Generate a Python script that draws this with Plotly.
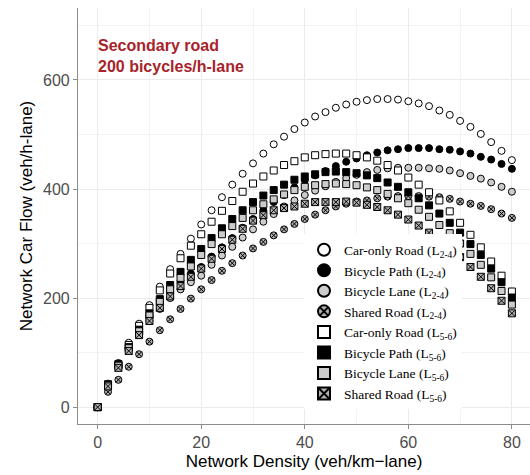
import plotly.graph_objects as go

density = [0, 2, 4, 6, 8, 10, 12, 14, 16, 18, 20, 22, 24, 26, 28, 30, 32, 34, 36, 38, 40,
           42, 44, 46, 48, 50, 52, 54, 56, 58, 60, 62, 64, 66, 68, 70, 72, 74, 76, 78, 80]

car_only_l24 = [0, 43, 81, 118, 153, 187, 221, 253, 281, 309, 335, 361, 385, 408, 428, 447, 465, 482, 496, 510,
                522, 533, 541, 549, 555, 560, 563, 565, 565, 564, 561, 557, 552, 544, 536, 525, 514, 501, 486, 470, 453]
bike_path_l24 = [0, 41, 77, 109, 139, 166, 190, 212, 231, 245, 257, 276, 293, 310, 329, 345, 361, 376, 389, 403,
                 416, 425, 433, 442, 450, 456, 462, 467, 471, 473, 475, 475, 475, 473, 472, 469, 465, 459, 454, 446, 437]
bike_lane_l24 = [0, 40, 75, 105, 133, 158, 180, 200, 216, 229, 241, 261, 278, 294, 311, 326, 340, 354, 368, 379,
                 389, 397, 405, 413, 420, 426, 431, 435, 438, 439, 439, 439, 438, 437, 434, 429, 424, 419, 412, 404, 395]
shared_l24 = [0, 28, 50, 74, 97, 120, 141, 161, 180, 199, 216, 233, 250, 264, 278, 291, 303, 315, 326, 336,
              345, 353, 361, 368, 373, 377, 379, 383, 386, 387, 387, 387, 386, 385, 382, 377, 373, 369, 363, 355, 347]
car_only_l56 = [0, 42, 79, 114, 149, 182, 214, 245, 273, 296, 317, 340, 360, 378, 395, 410, 423, 434, 444, 451,
                458, 462, 464, 465, 465, 462, 458, 452, 444, 434, 421, 408, 394, 379, 359, 338, 316, 293, 267, 241, 212]
bike_path_l56 = [0, 41, 77, 110, 142, 172, 198, 224, 248, 270, 290, 310, 328, 345, 361, 376, 388, 398, 408, 417,
                 423, 427, 431, 432, 431, 429, 425, 420, 412, 404, 394, 383, 370, 355, 338, 320, 299, 279, 254, 229, 201]
bike_lane_l56 = [0, 40, 76, 108, 139, 168, 193, 216, 237, 258, 279, 299, 317, 332, 347, 361, 372, 381, 390, 398,
                 404, 407, 409, 410, 409, 407, 403, 398, 391, 383, 374, 362, 349, 334, 319, 300, 281, 261, 238, 213, 188]
shared_l56 = [0, 38, 72, 103, 132, 158, 182, 203, 222, 239, 254, 272, 290, 307, 327, 342, 352, 361, 365, 368,
              373, 376, 376, 376, 377, 375, 371, 367, 361, 353, 344, 333, 320, 308, 291, 275, 257, 239, 218, 195, 172]

series_names = [
    "Car-only Road (L<sub>2-4</sub>)", "Bicycle Path (L<sub>2-4</sub>)",
    "Bicycle Lane (L<sub>2-4</sub>)", "Shared Road (L<sub>2-4</sub>)",
    "Car-only Road (L<sub>5-6</sub>)", "Bicycle Path (L<sub>5-6</sub>)",
    "Bicycle Lane (L<sub>5-6</sub>)", "Shared Road (L<sub>5-6</sub>)",
]
series_values = [car_only_l24, bike_path_l24, bike_lane_l24, shared_l24,
                 car_only_l56, bike_path_l56, bike_lane_l56, shared_l56]
symbols = ["circle", "circle", "circle", "circle-x", "square", "square", "square", "square-x"]
fills = ["white", "black", "#cccccc", "#b0b0b0", "white", "black", "#cccccc", "#b0b0b0"]

fig = go.Figure()
for name, vals, sym, fc in zip(series_names, series_values, symbols, fills):
    fig.add_trace(go.Scatter(
        x=density, y=vals, mode="markers", name=name,
        marker=dict(symbol=sym, size=7, color=fc, line=dict(color="black", width=1)),
    ))

fig.add_annotation(
    xref="paper", yref="paper", x=0.04, y=0.935, xanchor="left", yanchor="top",
    text="<b>Secondary road<br>200 bicycles/h-lane</b>", showarrow=False, align="left",
    font=dict(family="Liberation Sans, Arial", size=16, color="#a8232a"),
)

axis_common = dict(
    showline=True, linecolor="#8c8c8c", linewidth=1.2,
    ticks="outside", ticklen=4, tickcolor="#8c8c8c",
    tickfont=dict(family="Liberation Sans, Arial", size=16, color="#4d4d4d"),
    gridcolor="#ebebeb", gridwidth=1, zeroline=False, mirror=False,
    automargin=False,
)

fig.update_xaxes(
    range=[-3.8, 83.5], tickvals=[0, 20, 40, 60, 80],
    minor=dict(tickvals=[10, 30, 50, 70], showgrid=True, gridcolor="#f3f3f3", gridwidth=0.6, ticks=""),
    title=dict(text="Network Density (veh/km\u2212lane)", font=dict(family="Liberation Sans, Arial", size=17, color="black"), standoff=4),
    **axis_common,
)
fig.update_yaxes(
    range=[-31, 732], tickvals=[0, 200, 400, 600],
    minor=dict(tickvals=[100, 300, 500, 700], showgrid=True, gridcolor="#f3f3f3", gridwidth=0.6, ticks=""),
    title=dict(text="Network Car Flow (veh/h-lane)", font=dict(family="Liberation Sans, Arial", size=17, color="black"), standoff=6),
    **axis_common,
)

fig.update_layout(
    width=530, height=475,
    margin=dict(l=78, r=0, t=8, b=51, autoexpand=False),
    plot_bgcolor="white", paper_bgcolor="white",
    showlegend=True,
    legend=dict(
        x=0.5, y=0.035, xanchor="left", yanchor="bottom",
        bgcolor="rgba(255,255,255,1)", borderwidth=0,
        font=dict(family="Liberation Serif, Times New Roman", size=13.5, color="black"),
        itemsizing="constant", tracegroupgap=0,
    ),
)

fig.write_html(
    "out.html",
    config={"displayModeBar": False},
    post_script="document.body.style.margin='0';document.body.style.padding='0';document.body.style.overflow='hidden';",
)
